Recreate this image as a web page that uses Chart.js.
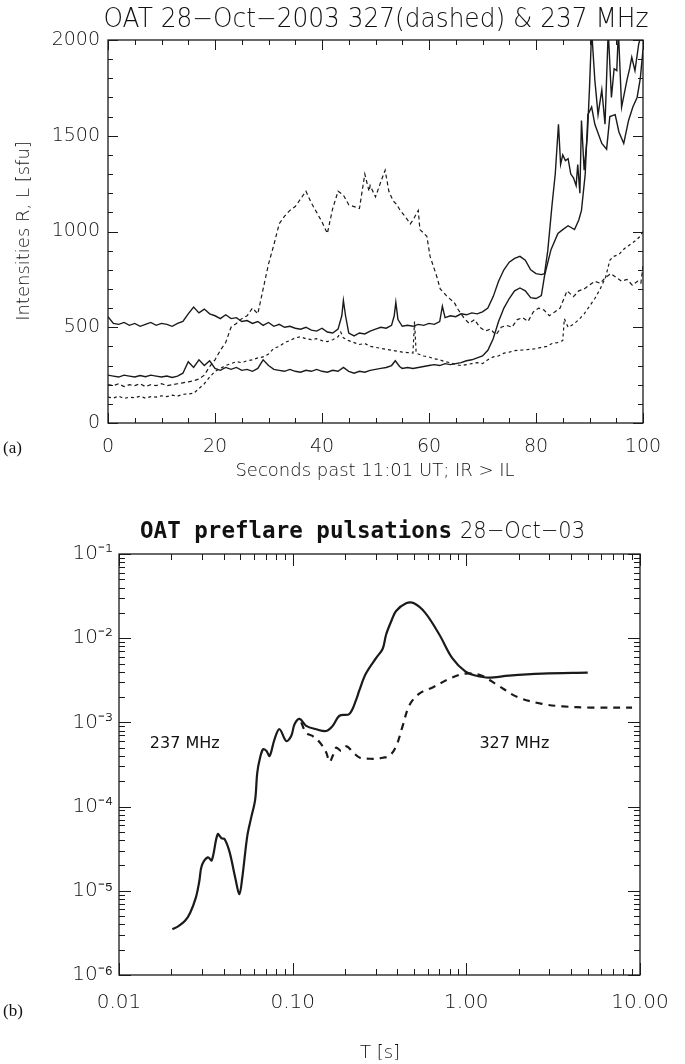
<!DOCTYPE html>
<html>
<head>
<meta charset="utf-8">
<script src="https://cdn.jsdelivr.net/npm/chart.js@4.4.1/dist/chart.umd.min.js"></script>
<style>
  html, body { margin: 0; padding: 0; background: #fff; }
  #wrap { position: relative; width: 685px; height: 1064px; }
  canvas { position: absolute; left: 0; }
  #chartA { top: 0; }
  #chartB { top: 500px; }
</style>
</head>
<body>
<div id="wrap">
  <canvas id="chartA" width="685" height="500"></canvas>
  <canvas id="chartB" width="685" height="564"></canvas>
</div>
<script>
var ink = '#1a1a1a';
var textInk = '#111111';
var thin = '"DejaVu Sans", sans-serif';

// ---- panel (a): intensities, seconds past 11:01 UT ----
var solidHiT = [0,1,2,3,4,5,6,7,8,9,10,11,12,13,14,15,16,17,18,19,20,21,22,23,24,25,26,27,28,29,30,31,32,33,34,35,36,37,38,39,40,41,42,43,43.7,44,44.4,45,46,47,48,49,50,51,52,53,53.5,53.8,54.2,55,56,57,58,59,60,61,62,62.5,63,64,65,66,67,68,69,70,71,72,73,74,75,76,77,78,79,80,81,81.6,82.2,83,83.6,84.2,84.6,85,85.5,86,86.5,87,87.5,87.8,88.2,88.5,89,89.6,90,90.4,91,91.6,92.3,92.9,93.5,94.1,94.6,95.1,95.4,96,96.5,97,97.5,97.9,98.5,99.2,100];
var solidHiI = [555,520,515,525,510,520,505,515,525,510,520,515,505,520,530,570,605,575,595,570,560,545,565,545,550,530,535,520,530,510,525,505,515,500,505,495,490,500,485,480,495,475,470,490,560,640,560,470,455,470,465,480,490,500,495,510,560,630,540,505,510,505,515,510,520,515,530,610,550,560,555,570,565,575,570,580,600,660,740,800,840,860,870,850,800,780,775,780,900,1140,1300,1560,1350,1400,1370,1380,1300,1280,1240,1350,1200,1580,1320,1500,1750,2050,1790,1610,1740,1560,2050,1700,1850,1840,2050,1650,1720,1790,1850,1910,1840,1980,2050];

var solidLoT = [0,1,2,3,4,5,6,7,8,9,10,11,12,13,14,15,16,17,18,19,20,21,22,23,24,25,26,27,28,29,30,31,32,33,34,35,36,37,38,39,40,41,42,43,44,45,46,47,48,49,50,51,52,53,53.7,54.5,55,56,57,58,59,60,61,62,63,64,65,66,67,68,69,70,71,72,73,74,75,76,77,78,79,80,81,81.6,82.8,84.1,85,86,87.2,88,88.5,89.2,89.7,90.4,91,92.3,93.2,93.8,94.8,95.5,96.4,97.3,98.1,98.9,99.5,100];
var solidLoI = [250,245,240,250,245,240,248,242,250,245,240,245,238,245,260,320,290,330,300,325,285,275,290,280,290,275,280,270,285,330,300,280,275,270,280,270,265,275,270,280,270,265,275,270,290,270,260,270,265,275,280,285,290,300,325,295,285,290,285,290,295,300,305,300,310,305,310,315,325,330,340,350,380,440,530,600,650,690,705,690,655,650,665,770,905,990,1010,1030,1010,1060,1110,1300,1610,1650,1560,1460,1430,1600,1610,1520,1460,1580,1650,1700,1800,1950];

var dashHiT = [0,1,2,3,4,5,6,7,8,9,10,11,12,13,14,15,16,17,18,19,20,21,22,23,24,25,26,27,28,29,30,31,32,33,34,35,36,37,38,39,40,41,42,43,44,45,46,47,48,48.8,49,50,51,51.8,52.5,53.3,54,54.6,55.5,56.5,57,58,58.3,59.6,60.2,61.4,62.1,63.4,64.7,65.5,66.5,67.5,68.5,69.5,70.5,71.5,72.5,73.5,74.5,75.5,76.5,77.5,78.5,79.5,80.5,81.5,82.5,83.5,84.5,85.8,87,88,89,90,91,92,93,94,95,96,97,98,99,99.6,100];
var dashHiI = [200,195,205,190,200,195,205,190,200,195,205,195,200,205,210,215,220,230,250,295,330,380,420,500,520,545,560,600,570,700,830,930,1040,1080,1110,1130,1170,1210,1150,1100,1050,990,1120,1210,1190,1140,1130,1120,1300,1210,1240,1180,1260,1320,1210,1160,1140,1110,1080,1040,1060,1110,1010,975,870,770,700,660,630,590,550,520,540,500,480,490,460,500,510,500,540,550,530,580,600,590,560,580,600,690,660,690,700,720,740,730,760,780,760,740,750,720,740,730,820];

var dashLoT = [0,1,2,3,4,5,6,7,8,9,10,11,12,13,14,15,16,17,18,19,20,21,22,23,24,25,26,27,28,29,30,31,32,33,34,35,36,37,38,39,40,41,42,43,43.5,44,45,46,47,48,49,50,51,52,53,54,55,56,57,57.3,57.6,58,59,60,61,62,63,64,65,66,67,68,69,70,71,72,73,74,75,76,77,78,79,80,81,82,83,84,85,85.3,86,87,88,89,90,91,92,93,93.8,94.5,95.5,96.5,97.5,98.5,99.3,100];
var dashLoI = [135,130,140,128,135,132,140,130,138,135,142,138,145,140,150,152,155,180,205,240,270,285,300,310,320,315,325,330,340,345,360,390,400,420,430,445,450,440,435,440,430,425,435,450,475,445,430,420,410,415,400,395,390,385,380,375,370,368,365,530,365,360,350,345,335,330,320,315,305,300,305,310,315,310,330,345,350,365,370,378,380,382,385,388,395,400,415,420,430,545,500,515,540,570,610,650,700,760,850,870,880,910,930,950,970,1000];

var aXMajor = [0, 20, 40, 60, 80, 100];
var aYMajor = [0, 500, 1000, 1500, 2000];

// ---- panel (b): preflare pulsations, period T [s] ----
var p237T = [0.0203,0.022,0.024,0.0257,0.0277,0.029,0.030,0.0325,0.0342,0.037,0.039,0.0406,0.0433,0.0468,0.0493,0.0512,0.0548,0.0577,0.0608,0.0625,0.0645,0.0675,0.0705,0.0737,0.0786,0.084,0.0918,0.0981,0.1025,0.1096,0.1196,0.1366,0.156,0.170,0.186,0.212,0.233,0.242,0.264,0.302,0.33,0.345,0.37,0.394,0.45,0.50,0.58,0.70,0.83,0.99,1.13,1.34,1.76,2.73,5.0];
var p237P = [3.5e-6,3.8e-6,4.4e-6,5.5e-6,8.3e-6,1.3e-5,2.0e-5,2.5e-5,2.3e-5,4.7e-5,4.2e-5,4.1e-5,2.9e-5,1.4e-5,9.1e-6,1.4e-5,4.5e-5,7.4e-5,1.2e-4,2.5e-4,3.6e-4,4.8e-4,4.6e-4,4.0e-4,6.3e-4,8.3e-4,6.0e-4,6.9e-4,9.5e-4,1.1e-3,9.1e-4,8.3e-4,7.9e-4,9.1e-4,1.2e-3,1.26e-3,1.9e-3,2.4e-3,3.8e-3,5.8e-3,7.5e-3,1.1e-2,1.6e-2,2.1e-2,2.6e-2,2.6e-2,2.0e-2,1.1e-2,5.8e-3,4.0e-3,3.6e-3,3.4e-3,3.6e-3,3.8e-3,3.9e-3];

var p327T = [0.112,0.1196,0.13,0.143,0.156,0.163,0.170,0.178,0.19,0.204,0.223,0.244,0.278,0.302,0.33,0.36,0.394,0.43,0.47,0.536,0.64,0.80,0.99,1.22,1.5,1.97,2.73,3.6,5.2,9.0];
var p327P = [1.0e-3,7.5e-4,6.9e-4,5.8e-4,4.4e-4,3.4e-4,4.0e-4,5.0e-4,4.6e-4,5.2e-4,4.4e-4,3.8e-4,3.7e-4,3.7e-4,3.8e-4,4.0e-4,5.2e-4,9.1e-4,1.6e-3,2.2e-3,2.6e-3,3.3e-3,3.8e-3,3.6e-3,2.8e-3,2.0e-3,1.66e-3,1.55e-3,1.5e-3,1.5e-3];

var bXDecades = [0.01, 0.1, 1, 10];
var bXLabels = ['0.01', '0.10', '1.00', '10.00'];
var bYDecades = [1e-6, 1e-5, 1e-4, 1e-3, 1e-2, 1e-1];
var bYLabels = ['10\u207B\u2076', '10\u207B\u2075', '10\u207B\u2074', '10\u207B\u00B3', '10\u207B\u00B2', '10\u207B\u00B9'];

var bNotes = [
  { text: '237 MHz', t: 0.0239, p: 5.6e-4 },
  { text: '327 MHz', t: 1.89, p: 5.6e-4 }
];

function pairs(xs, ys) {
  return xs.map(function(x, i) { return { x: x, y: ys[i] }; });
}

function stepList(from, to, step) {
  var out = [];
  for (var v = from; v <= to + 1e-9; v += step) out.push(v);
  return out;
}

function logMinors(decades) {
  var out = [];
  for (var i = 0; i < decades.length - 1; i++) {
    for (var k = 2; k <= 9; k++) out.push(decades[i] * k);
  }
  return out;
}

// IDL-style box: frame plus inward ticks on all four sides
function boxTicks(chart, o) {
  var ctx = chart.ctx, a = chart.chartArea;
  var xs = chart.scales.x, ys = chart.scales.y;
  ctx.save();
  ctx.strokeStyle = ink;
  ctx.lineWidth = 1.3;
  ctx.strokeRect(a.left, a.top, a.right - a.left, a.bottom - a.top);
  ctx.lineWidth = 1;
  ctx.beginPath();
  function xt(v, len) {
    var p = Math.round(xs.getPixelForValue(v)) + 0.5;
    ctx.moveTo(p, a.bottom); ctx.lineTo(p, a.bottom - len);
    ctx.moveTo(p, a.top); ctx.lineTo(p, a.top + len);
  }
  function yt(v, len) {
    var p = Math.round(ys.getPixelForValue(v)) + 0.5;
    ctx.moveTo(a.left, p); ctx.lineTo(a.left + len, p);
    ctx.moveTo(a.right, p); ctx.lineTo(a.right - len, p);
  }
  o.xMinor.forEach(function(v) { xt(v, o.minor); });
  o.xMajor.forEach(function(v) { xt(v, o.major); });
  o.yMinor.forEach(function(v) { yt(v, o.minor); });
  o.yMajor.forEach(function(v) { yt(v, o.major); });
  ctx.stroke();
  ctx.restore();
}

function text(ctx, str, x, y, font, align, maxW) {
  ctx.font = font;
  ctx.fillStyle = textInk;
  ctx.textAlign = align || 'center';
  ctx.textBaseline = 'middle';
  if (maxW) ctx.fillText(str, x, y, maxW); else ctx.fillText(str, x, y);
}

var panelA = {
  id: 'panelA',
  afterDraw: function(chart) {
    var ctx = chart.ctx;
    boxTicks(chart, {
      xMajor: aXMajor, xMinor: stepList(0, 100, 5),
      yMajor: aYMajor, yMinor: stepList(0, 2000, 100),
      major: 10, minor: 5
    });
    text(ctx, 'OAT 28\u2212Oct\u22122003 327(dashed) & 237 MHz', 376, 20, '200 26px ' + thin, 'center', 545);
    text(ctx, 'Seconds past 11:01 UT; IR > IL', 375, 471, '200 18px ' + thin, 'center', 305);
    text(ctx, '(a)', 3, 449, '17px "Liberation Serif", serif', 'left');
    ctx.save();
    ctx.translate(24, 231);
    ctx.rotate(-Math.PI / 2);
    text(ctx, 'Intensities R, L [sfu]', 0, 0, '200 18px ' + thin, 'center');
    ctx.restore();
  }
};

var panelB = {
  id: 'panelB',
  afterDraw: function(chart) {
    var ctx = chart.ctx;
    boxTicks(chart, {
      xMajor: bXDecades, xMinor: logMinors(bXDecades),
      yMajor: bYDecades, yMinor: logMinors(bYDecades),
      major: 12, minor: 6
    });
    text(ctx, 'OAT preflare pulsations', 140, 32, 'bold 23px "DejaVu Sans Mono", monospace', 'left', 312);
    text(ctx, '28\u2212Oct\u221203', 460, 32, '200 23px ' + thin, 'left', 125);
    text(ctx, 'T [s]', 380, 553, '200 18px ' + thin, 'center');
    text(ctx, '(b)', 3, 512, '17px "Liberation Serif", serif', 'left');
    bNotes.forEach(function(n) {
      text(ctx, n.text, chart.scales.x.getPixelForValue(n.t), chart.scales.y.getPixelForValue(n.p), '16px ' + thin, 'center');
    });
  }
};

var tickFont = { family: thin, size: 19, weight: 200 };

new Chart(document.getElementById('chartA').getContext('2d'), {
  type: 'line',
  data: {
    datasets: [
      { data: pairs(dashHiT, dashHiI), borderColor: ink, borderWidth: 1.2, borderDash: [4, 3] },
      { data: pairs(dashLoT, dashLoI), borderColor: ink, borderWidth: 1.2, borderDash: [3, 3] },
      { data: pairs(solidHiT, solidHiI), borderColor: ink, borderWidth: 1.4 },
      { data: pairs(solidLoT, solidLoI), borderColor: ink, borderWidth: 1.4 }
    ]
  },
  options: {
    responsive: false, animation: false,
    layout: { padding: { top: 40, right: 42, left: 0, bottom: 0 } },
    elements: { point: { radius: 0 }, line: { tension: 0 } },
    plugins: { legend: { display: false }, tooltip: { enabled: false } },
    scales: {
      x: {
        type: 'linear', min: 0, max: 100,
        grid: { display: false, drawTicks: false }, border: { display: false },
        ticks: { stepSize: 20, padding: 13, color: textInk, font: tickFont, maxRotation: 0,
          callback: function(v) { return String(v); } },
        afterFit: function(s) { s.height = 77; }
      },
      y: {
        min: 0, max: 2000,
        grid: { display: false, drawTicks: false }, border: { display: false },
        ticks: { stepSize: 500, padding: 8, color: textInk, font: tickFont,
          callback: function(v) { return String(v); } },
        afterFit: function(s) { s.width = 108; }
      }
    }
  },
  plugins: [panelA]
});

new Chart(document.getElementById('chartB').getContext('2d'), {
  type: 'line',
  data: {
    datasets: [
      { data: pairs(p327T, p327P), borderColor: ink, borderWidth: 2.2, borderDash: [7, 6], tension: 0.35 },
      { data: pairs(p237T, p237P), borderColor: ink, borderWidth: 2.2, tension: 0.35 }
    ]
  },
  options: {
    responsive: false, animation: false,
    layout: { padding: { top: 54, right: 45, left: 0, bottom: 0 } },
    elements: { point: { radius: 0 } },
    plugins: { legend: { display: false }, tooltip: { enabled: false } },
    scales: {
      x: {
        type: 'logarithmic', min: 0.01, max: 10,
        grid: { display: false, drawTicks: false }, border: { display: false },
        afterBuildTicks: function(s) { s.ticks = bXDecades.map(function(v) { return { value: v }; }); },
        ticks: { padding: 16, color: textInk, font: { family: thin, size: 20, weight: 200 }, maxRotation: 0, autoSkip: false,
          callback: function(v, i) { return bXLabels[i]; } },
        afterFit: function(s) { s.height = 89; }
      },
      y: {
        type: 'logarithmic', min: 1e-6, max: 1e-1,
        grid: { display: false, drawTicks: false }, border: { display: false },
        afterBuildTicks: function(s) { s.ticks = bYDecades.map(function(v) { return { value: v }; }); },
        ticks: { padding: 6, color: textInk, font: { family: thin, size: 20, weight: 200 }, autoSkip: false,
          callback: function(v, i) { return bYLabels[i]; } },
        afterFit: function(s) { s.width = 119; }
      }
    }
  },
  plugins: [panelB]
});
</script>
</body>
</html>
